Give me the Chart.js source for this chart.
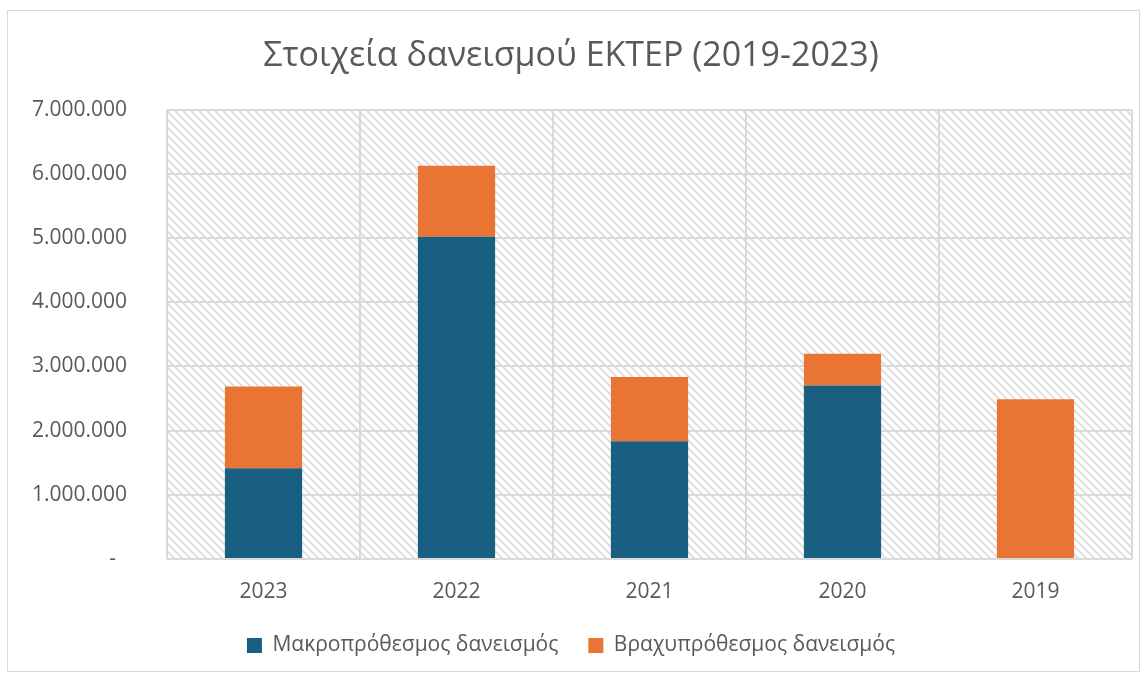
<!DOCTYPE html>
<html>
<head>
<meta charset="utf-8">
<script src="https://cdn.jsdelivr.net/npm/chart.js@4"></script>
<style>
    body { margin: 0; background: #fff; }
    #wrap { width: 1147px; height: 677px; }
</style>
</head>
<body>
<div id="wrap"><canvas id="loanChart" width="1147" height="677"></canvas></div>
<script>
// Données
const years = ["2023", "2022", "2021", "2020", "2019"];
const longTerm = [1415000, 5020000, 1835000, 2705000, 0];
const shortTerm = [1275000, 1110000, 1000000, 495000, 2490000];
const yTicks = [0, 1000000, 2000000, 3000000, 4000000, 5000000, 6000000, 7000000];

const gray = "#595959";
const fontName = "'Open Sans', 'Noto Sans', sans-serif";

// motif hachuré du fond de la zone de tracé
function makeHatch() {
    const c = document.createElement("canvas");
    c.width = 8;
    c.height = 8;
    const g = c.getContext("2d");
    g.fillStyle = "#fff";
    g.fillRect(0, 0, 8, 8);
    g.strokeStyle = "#dedede";
    g.lineWidth = 2;
    g.beginPath();
    g.moveTo(-2, -2); g.lineTo(10, 10);
    g.moveTo(-10, -2); g.lineTo(2, 10);
    g.moveTo(6, -2); g.lineTo(18, 10);
    g.stroke();
    return g.createPattern(c, "repeat");
}

const backgroundPlugin = {
    id: "plotBackground",
    beforeDraw(chart) {
        const { ctx, chartArea } = chart;
        ctx.save();
        ctx.fillStyle = "#fff";
        ctx.fillRect(0, 0, chart.width, chart.height);
        ctx.strokeStyle = "#d9d9d9";
        ctx.lineWidth = 1;
        ctx.strokeRect(7.5, 10.5, 1132, 661);
        ctx.fillStyle = makeHatch();
        ctx.fillRect(chartArea.left, chartArea.top, chartArea.right - chartArea.left, chartArea.bottom - chartArea.top);
        ctx.restore();
    }
};

function formatTick(v) {
    if (v === 0) return "-" + "\u00a0".repeat(2);
    return String(v).replace(/\B(?=(\d{3})+(?!\d))/g, ".");
}

new Chart(document.getElementById("loanChart"), {
    type: "bar",
    data: {
        labels: years,
        datasets: [
            {
                label: "Μακροπρόθεσμος δανεισμός",
                data: longTerm,
                backgroundColor: "#185f81"
            },
            {
                label: "Βραχυπρόθεσμος δανεισμός",
                data: shortTerm,
                backgroundColor: "#ea7433"
            }
        ]
    },
    options: {
        responsive: false,
        animation: false,
        devicePixelRatio: 1,
        categoryPercentage: 1,
        barPercentage: 0.4,
        layout: { padding: { left: 10, right: 15, top: 10, bottom: 11 } },
        plugins: {
            title: {
                display: true,
                text: "Στοιχεία δανεισμού ΕΚΤΕΡ (2019-2023)",
                color: gray,
                font: { family: fontName, size: 34, weight: "normal" },
                padding: { top: 26, bottom: 33 }
            },
            legend: {
                position: "bottom",
                labels: {
                    color: gray,
                    font: { family: fontName, size: 21 },
                    boxWidth: 15,
                    boxHeight: 15,
                    padding: 30
                }
            },
            tooltip: { enabled: false }
        },
        scales: {
            x: {
                stacked: true,
                afterFit(scale) { scale.height = 46; },
                grid: { color: "#d9d9d9", lineWidth: 2, drawTicks: false },
                border: { display: false },
                ticks: { color: gray, font: { family: fontName, size: 21 }, padding: 20 }
            },
            y: {
                stacked: true,
                min: 0,
                max: 7000000,
                afterFit(scale) { scale.width = 157; },
                afterBuildTicks(scale) { scale.ticks = yTicks.map(v => ({ value: v })); },
                grid: { color: "#d9d9d9", lineWidth: 2, drawTicks: false },
                border: { display: false },
                ticks: {
                    color: gray,
                    font: { family: fontName, size: 21 },
                    padding: 40,
                    callback: v => formatTick(v)
                }
            }
        }
    },
    plugins: [backgroundPlugin]
});
</script>
</body>
</html>
